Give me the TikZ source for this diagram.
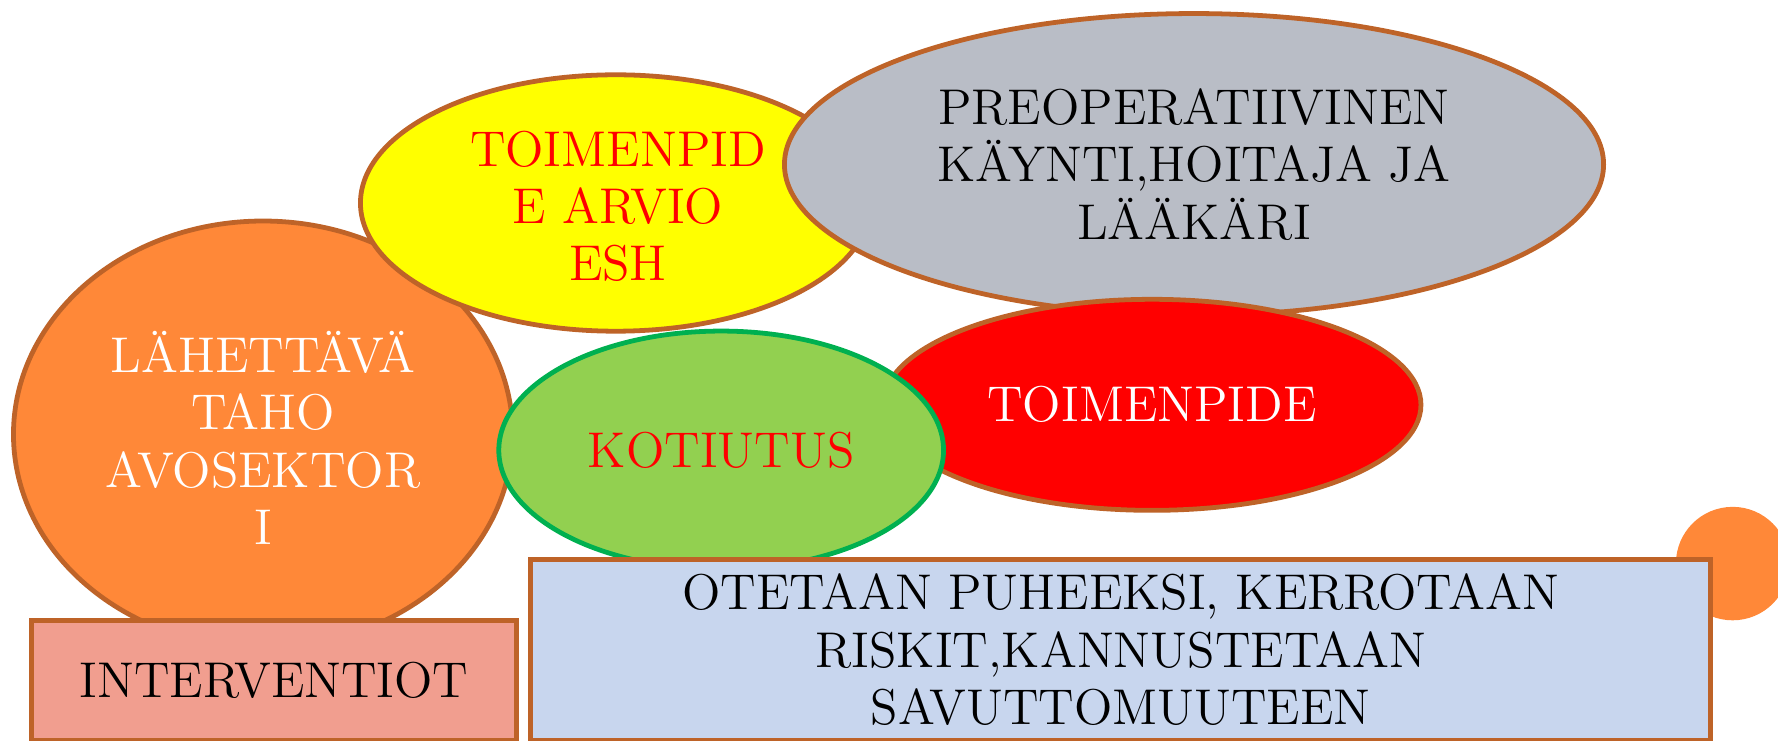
\documentclass[tikz,border=0pt]{standalone}
\usetikzlibrary{shapes.geometric}
\definecolor{brd}{HTML}{BE6328}
\definecolor{orng}{HTML}{FF8838}
\definecolor{gry}{HTML}{B9BDC6}
\definecolor{lgreen}{HTML}{92D050}
\definecolor{dgreen}{HTML}{00B050}
\definecolor{lblue}{HTML}{C8D6EE}
\definecolor{salmon}{HTML}{F19E8F}
\definecolor{yel}{HTML}{FFFF00}
\tikzset{
  txt/.style={align=center, font=\fontsize{12.6}{14.4}\selectfont},
  bubble/.style={ellipse, draw=brd, line width=1.2pt, inner sep=0pt, txt},
  box/.style={rectangle, draw=brd, line width=1.2pt, inner sep=0pt, txt},
}
\begin{document}
\begin{tikzpicture}[x=0.01cm, y=-0.01cm]
\useasboundingbox (0,0) rectangle (1568,653);
% orange circle
\node[bubble, fill=orng, minimum width=4.4cm, minimum height=3.76cm] (lah) at (232,383) {};
\node[txt, text=white] (lahtxt) at (232,386) {LÄHETTÄVÄ\\TAHO\\AVOSEKTOR\\I};
% yellow
\node[bubble, fill=yel, minimum width=4.5cm, minimum height=2.26cm] (arv) at (543,179) {};
\node[txt, text=red] (arvtxt) at (545,182) {TOIMENPID\\E ARVIO\\ESH};
% gray
\node[bubble, fill=gry, minimum width=7.22cm, minimum height=2.66cm] (pre) at (1053,145) {PREOPERATIIVINEN\\KÄYNTI,HOITAJA JA\\LÄÄKÄRI};
% red
\node[bubble, fill=red, text=white, minimum width=4.74cm, minimum height=1.86cm] (toi) at (1016,357) {TOIMENPIDE};
% green
\node[bubble, draw=dgreen, fill=lgreen, text=red, minimum width=3.92cm, minimum height=2.1cm] (kot) at (636,397) {KOTIUTUS};
% interventiot
\node[box, fill=salmon, minimum width=4.27cm, minimum height=1.06cm, anchor=north west] (int) at (26,545) {};
\node[txt] (inttxt) at (int.center) {INTERVENTIOT};
% small orange circle
\node[circle, fill=orng, minimum size=1.0cm, inner sep=0pt] (dot) at (1528,497) {};
% blue rect
\node[box, fill=lblue, minimum width=10.4cm, minimum height=1.6cm, anchor=north west] (ote) at (466,491) {OTETAAN PUHEEKSI, KERROTAAN\\RISKIT,KANNUSTETAAN\\SAVUTTOMUUTEEN};
\end{tikzpicture}
\end{document}
